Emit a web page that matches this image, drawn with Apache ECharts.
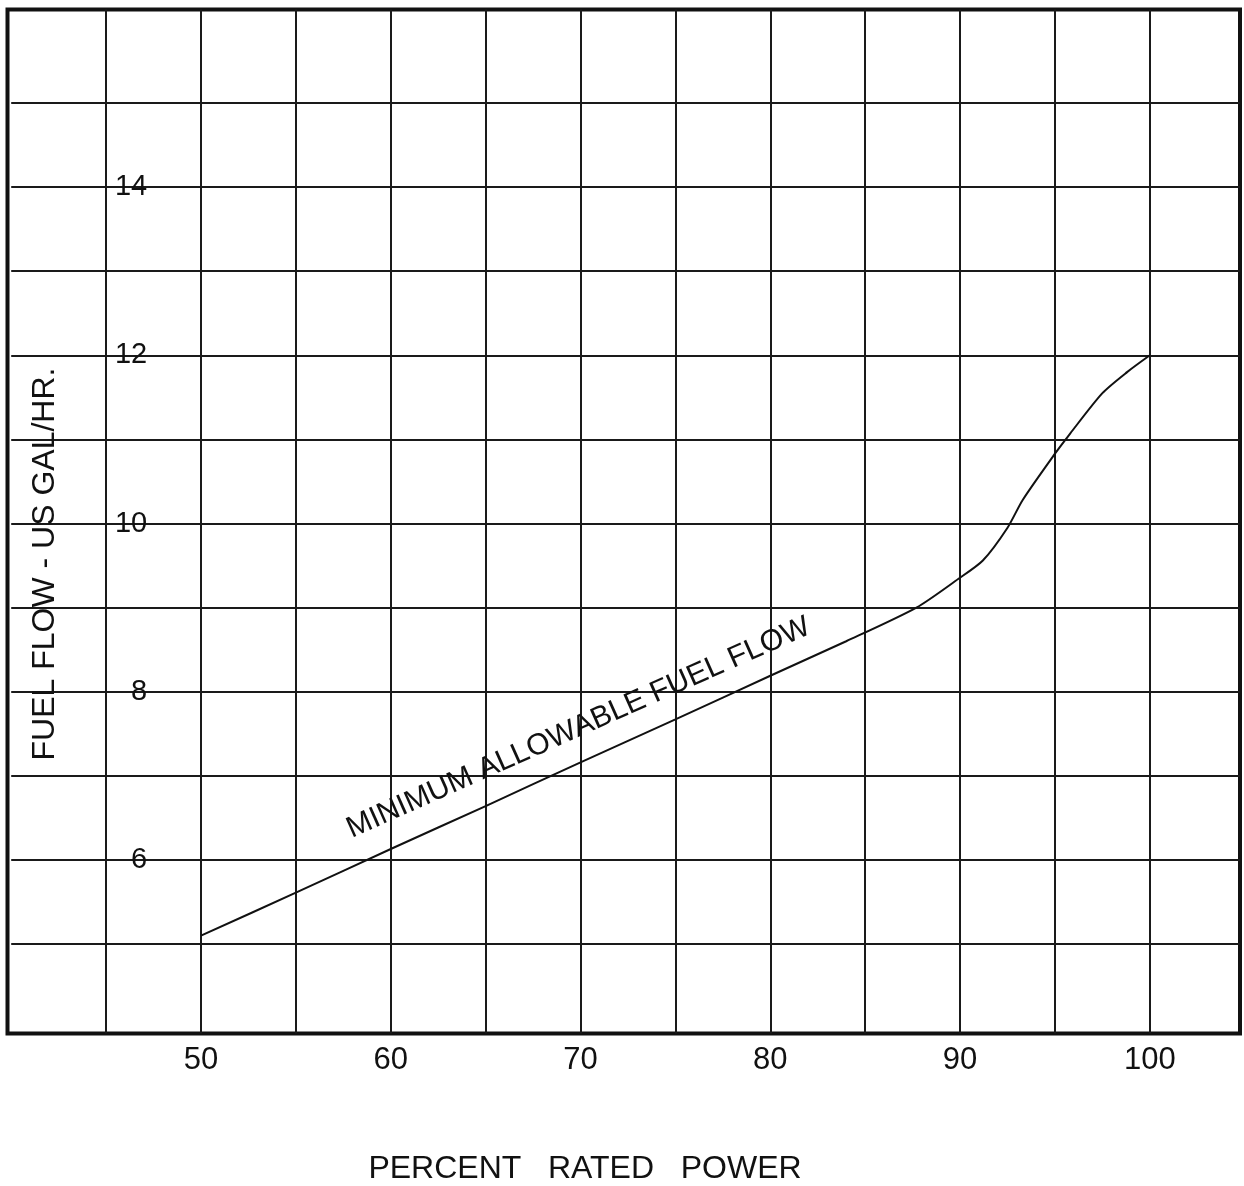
<!DOCTYPE html>
<html>
<head>
<meta charset="utf-8">
<script src="https://cdn.jsdelivr.net/npm/echarts@6/dist/echarts.min.js"></script>
<style>
html,body{margin:0;padding:0;background:#fff;}
#chart{width:1244px;height:1186px;}
</style>
</head>
<body>
<div id="chart"></div>
<script>
// ---- data ----
const powerPct = [50, 55, 60, 65, 70, 75, 80, 84, 87.7, 89.9, 91.2, 92.5, 93.3, 95, 95.8, 97.5, 98.8, 100];
const fuelFlow = [5.1, 5.61, 6.13, 6.64, 7.16, 7.67, 8.19, 8.6, 9.0, 9.34, 9.56, 9.95, 10.28, 10.83, 11.07, 11.55, 11.8, 12.0];
const xTickLabels = [50, 60, 70, 80, 90, 100];
const yTickLabels = [6, 8, 10, 12, 14];
const curveName = 'MINIMUM ALLOWABLE FUEL FLOW';
const xTitle = 'PERCENT   RATED   POWER';
const yTitle = 'FUEL FLOW - US GAL/HR.';

const FONT = '"Liberation Sans", Arial, Helvetica, sans-serif';
const INK = '#111111';

const chart = echarts.init(document.getElementById('chart'), null, {renderer: 'canvas'});
const pairs = powerPct.map((p, i) => [p, fuelFlow[i]]);

chart.setOption({
  backgroundColor: '#ffffff',
  animation: false,
  grid: [
    // 0: heavy frame
    {left: 7.5, right: 4, top: 9.5, bottom: 152.5, show: true, borderColor: '#111', borderWidth: 4, backgroundColor: 'transparent', containLabel: false},
    // 1: vertical grid lines + x labels
    {left: 11.2, right: 4, top: 9.5, bottom: 152.5, containLabel: false},
    // 2: horizontal grid lines + data
    {left: 11.2, right: 4, top: 103, bottom: 157.9, containLabel: false}
  ],
  xAxis: [
    {gridIndex: 0, type: 'value', min: 40, max: 104.75, show: false},
    {gridIndex: 1, type: 'value', min: 40, max: 104.75, interval: 5,
      axisLine: {show: false}, axisTick: {show: false},
      splitLine: {show: true, showMinLine: false, showMaxLine: false, lineStyle: {color: '#1a1a1a', width: 2}},
      axisLabel: {show: true, margin: 11, fontSize: 31, fontFamily: FONT, color: INK,
        formatter: v => xTickLabels.includes(Math.round(v * 100) / 100) ? String(v) : ''}
    },
    {gridIndex: 2, type: 'value', min: 40, max: 104.75, show: false}
  ],
  yAxis: [
    {gridIndex: 0, type: 'value', min: 4, max: 16, show: false},
    {gridIndex: 1, type: 'value', min: 4, max: 16, show: false},
    {gridIndex: 2, type: 'value', min: 4, max: 15, interval: 1,
      axisLine: {show: false}, axisTick: {show: false},
      splitLine: {show: true, showMinLine: false, showMaxLine: true, lineStyle: {color: '#1a1a1a', width: 2}},
      axisLabel: {show: true, inside: true, align: 'right', verticalAlign: 'middle', margin: 136,
        fontSize: 29, fontFamily: FONT, color: INK,
        formatter: v => yTickLabels.includes(v) ? String(v) : ''}
    }
  ],
  series: [
    {
      type: 'line', xAxisIndex: 2, yAxisIndex: 2,
      data: pairs, showSymbol: false, symbol: 'none',
      smooth: 0.25,
      lineStyle: {color: '#111', width: 2},
      z: 5,
      markPoint: {
        symbol: 'circle', symbolSize: 0, silent: true,
        data: [{coord: [69.9, 7.57], value: curveName}],
        label: {show: true, position: 'inside', rotate: 24, formatter: curveName,
          fontSize: 30, fontFamily: FONT, color: INK}
      }
    }
  ],
  graphic: [
    {type: 'text', x: 585, y: 1169, z: 10,
      style: {text: xTitle, font: '32px ' + FONT, fill: INK, textAlign: 'center', textVerticalAlign: 'middle'}},
    {type: 'text', x: 45, y: 564, rotation: Math.PI / 2, z: 10,
      style: {text: yTitle, font: '32px ' + FONT, fill: INK, textAlign: 'center', textVerticalAlign: 'middle'}}
  ]
});
</script>
</body>
</html>
